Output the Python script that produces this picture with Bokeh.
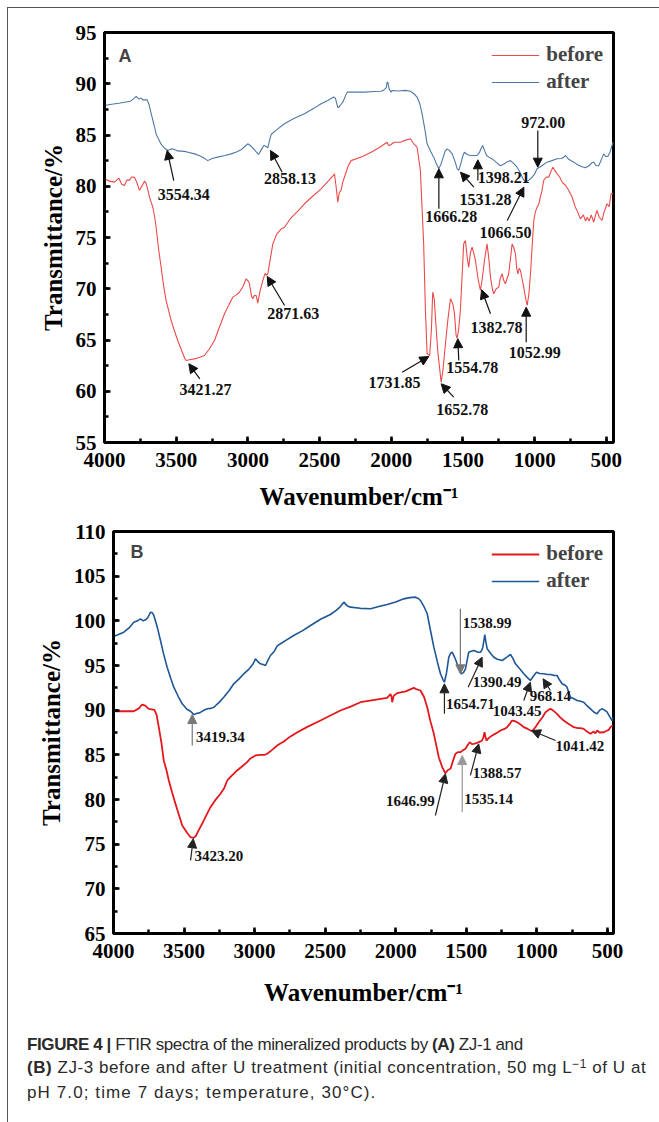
from bokeh.plotting import figure
from bokeh.models import (Range1d, SingleIntervalTicker, Legend, LegendItem, Arrow,
                          NormalHead, Label, ColumnDataSource, Div)
from bokeh.layouts import column
from bokeh.embed import file_html
from bokeh.resources import INLINE
from bokeh.core.properties import value

# ---------------- data: panel A (ZJ-1) ----------------
WN_A_BEFORE = [4000, 3965, 3930, 3900, 3880, 3861, 3845, 3826, 3810, 3791, 3775, 3756, 3740, 3720, 3709,
               3695, 3686, 3663, 3650, 3640, 3622, 3605, 3588, 3570, 3535, 3510, 3489, 3460, 3440, 3430,
               3400, 3372, 3340, 3303, 3270, 3233, 3200, 3163, 3130, 3105, 3080, 3059, 3035, 3012, 2995,
               2989, 2975, 2966, 2955, 2942, 2931, 2915, 2896, 2880, 2870, 2861, 2845, 2826, 2800, 2770,
               2745, 2700, 2650, 2605, 2550, 2489, 2440, 2400, 2396, 2385, 2373, 2362, 2350, 2340, 2327,
               2300, 2280, 2200, 2140, 2080, 2029, 2020, 2013, 1978, 1936, 1900, 1866, 1843, 1820, 1797,
               1774, 1762, 1750, 1732, 1720, 1711, 1700, 1692, 1676, 1657, 1652, 1640, 1622, 1605, 1587,
               1570, 1559, 1548, 1541, 1530, 1518, 1505, 1495, 1483, 1470, 1460, 1448, 1436, 1425, 1413,
               1395, 1378, 1365, 1350, 1332, 1320, 1308, 1295, 1285, 1268, 1250, 1240, 1227, 1215, 1204,
               1192, 1181, 1168, 1157, 1145, 1134, 1125, 1117, 1108, 1099, 1088, 1076, 1062, 1052, 1040,
               1029, 1018, 1006, 995, 983, 970, 960, 950, 937, 920, 902, 885, 872, 858, 843,
               825, 809, 785, 762, 740, 716, 700, 681, 660, 645, 634, 620, 605, 588, 575,
               565, 550, 530, 515, 495, 480, 467, 452]
T_A_BEFORE = [80.72, 80.5, 80.4, 80.8, 80.2, 80.07, 80.6, 80.6, 80.9, 80.88, 80.4, 79.6, 80.0, 80.5, 80.24,
              79.5, 78.93, 77.96, 77.0, 76.0, 73.8, 72.1, 70.3, 68.85, 66.9, 65.8, 64.95, 63.9, 63.2, 63.0,
              63.1, 63.16, 63.3, 63.49, 64.1, 64.95, 66.2, 67.56, 68.5, 69.18, 69.4, 69.66, 70.2, 70.97, 70.7,
              70.48, 69.3, 69.02, 69.34, 69.34, 68.59, 69.8, 70.8, 71.5, 71.3, 71.46, 72.8, 74.38, 75.3, 75.8,
              76.0, 76.9, 77.6, 78.29, 79.0, 79.75, 80.5, 81.1, 81.21, 80.0, 78.45, 79.4, 79.59, 80.3, 80.88,
              82.0, 82.5, 82.9, 83.32, 83.8, 84.3, 84.0, 83.98, 84.3, 84.3, 84.5, 84.63, 84.14, 83.81, 81.54,
              74.38, 68.0, 63.65, 63.49, 66.0, 69.66, 69.0, 67.2, 63.98, 61.5, 60.88, 62.0, 64.63, 67.0, 69.02,
              68.5, 67.56, 65.5, 65.15, 66.0, 67.88, 71.5, 74.38, 74.7, 73.0, 72.1, 73.5, 74.05, 73.5, 72.76,
              71.0, 69.83, 71.0, 72.76, 74.38, 73.0, 71.13, 70.0, 69.51, 70.0, 70.16, 71.0, 71.46, 70.8, 70.48,
              71.0, 71.46, 73.0, 74.38, 74.0, 73.41, 72.0, 71.46, 72.0, 71.78, 71.0, 70.16, 69.0, 68.37, 69.5,
              71.46, 74.0, 76.66, 77.5, 77.96, 78.3, 78.93, 79.5, 80.56, 80.9, 80.88, 81.5, 81.86, 81.5, 81.21,
              80.9, 80.4, 80.1, 79.59, 79.0, 77.96, 77.5, 76.82, 77.2, 76.6, 76.98, 76.6, 77.2, 76.49, 77.2,
              77.63, 77.0, 76.66, 77.5, 78.29, 78.0, 79.26, 79.3]

WN_A_AFTER = [4000, 3950, 3900, 3861, 3820, 3800, 3779, 3760, 3745, 3733, 3702, 3690, 3674, 3655, 3640,
              3620, 3605, 3580, 3558, 3540, 3524, 3490, 3442, 3410, 3372, 3340, 3300, 3280, 3250, 3210,
              3160, 3117, 3080, 3047, 3020, 3001, 2985, 2966, 2945, 2926, 2905, 2889, 2875, 2861, 2850,
              2838, 2800, 2745, 2680, 2605, 2540, 2489, 2440, 2401, 2390, 2373, 2366, 2350, 2338, 2308,
              2292, 2250, 2187, 2120, 2071, 2052, 2035, 2029, 2024, 2015, 2001, 1994, 1950, 1900, 1866,
              1840, 1820, 1800, 1785, 1765, 1750, 1725, 1704, 1685, 1669, 1655, 1645, 1625, 1610, 1595,
              1575, 1555, 1540, 1529, 1515, 1500, 1490, 1470, 1448, 1420, 1401, 1385, 1370, 1362, 1350,
              1335, 1320, 1290, 1265, 1239, 1210, 1190, 1169, 1145, 1122, 1100, 1080, 1064, 1040, 1018,
              1000, 983, 960, 940, 913, 880, 843, 815, 800, 785, 760, 727, 700, 670, 646,
              620, 600, 588, 570, 553, 535, 518, 505, 490, 475, 460, 452]
T_A_AFTER = [87.88, 88.0, 88.1, 88.2, 88.3, 88.5, 88.76, 88.5, 88.6, 88.43, 88.43, 88.0, 87.07, 86.0, 85.1,
             84.5, 84.1, 83.7, 83.49, 83.6, 83.65, 83.45, 83.4, 83.3, 83.16, 83.0, 82.7, 82.5, 82.7, 82.84,
             83.0, 83.16, 83.35, 83.55, 83.9, 84.14, 84.0, 83.75, 83.4, 83.1, 83.6, 83.98, 83.9, 83.75, 84.4,
             85.05, 85.5, 86.1, 86.6, 87.07, 87.6, 88.04, 88.4, 88.7, 88.6, 87.7, 87.7, 88.0, 88.2, 89.18,
             89.18, 89.2, 89.18, 89.25, 89.27, 89.4, 89.6, 90.15, 90.15, 89.5, 89.18, 89.34, 89.3, 89.35, 89.27,
             89.0, 88.7, 88.0, 87.07, 85.5, 84.14, 83.4, 82.84, 82.2, 81.7, 82.1, 82.5, 83.4, 83.65, 83.5,
             83.16, 82.4, 81.7, 81.54, 82.2, 83.0, 83.32, 83.1, 83.0, 83.0, 83.0, 83.3, 83.8, 83.98, 83.5,
             83.0, 82.84, 82.6, 82.3, 82.0, 82.2, 82.4, 82.5, 82.2, 81.86, 81.3, 80.7, 80.4, 80.6, 80.88,
             81.2, 81.7, 81.9, 82.1, 82.35, 82.5, 82.68, 82.7, 82.8, 83.0, 82.6, 82.35, 82.1, 81.9, 81.8,
             82.0, 82.3, 82.35, 82.0, 82.0, 82.6, 83.16, 82.9, 82.9, 83.3, 83.98, 84.3]

# ---------------- data: panel B (ZJ-3) ----------------
WN_B_BEFORE = [4000, 3930, 3856, 3820, 3797, 3775, 3750, 3710, 3695, 3679, 3660, 3644, 3625, 3608, 3585,
               3561, 3535, 3513, 3480, 3454, 3435, 3419, 3395, 3372, 3340, 3313, 3280, 3242, 3215, 3194,
               3160, 3124, 3090, 3053, 3030, 2994, 2960, 2930, 2911, 2880, 2840, 2815, 2793, 2760, 2700,
               2630, 2533, 2463, 2392, 2320, 2250, 2150, 2061, 2037, 2030, 2025, 2015, 1990, 1930, 1872,
               1860, 1825, 1800, 1777, 1755, 1730, 1712, 1695, 1670, 1648, 1630, 1612, 1595, 1577, 1560,
               1542, 1525, 1506, 1490, 1476, 1460, 1447, 1430, 1412, 1400, 1388, 1378, 1371, 1364, 1357,
               1340, 1317, 1290, 1258, 1230, 1211, 1190, 1176, 1160, 1140, 1115, 1093, 1065, 1034, 1010,
               987, 960, 939, 920, 904, 880, 857, 835, 810, 780, 760, 739, 710, 690, 668,
               645, 620, 597, 585, 573, 555, 526, 505, 490, 479, 462]
T_B_BEFORE = [89.88, 89.9, 89.88, 90.2, 90.63, 90.5, 90.15, 90.04, 89.5, 88.1, 86.3, 84.37, 83.3, 82.13, 80.8,
              79.52, 78.2, 77.09, 76.3, 75.78, 75.7, 75.86, 76.6, 77.28, 78.3, 79.14, 79.9, 80.64, 81.3, 82.13,
              82.7, 83.25, 83.7, 84.18, 84.6, 84.93, 85.0, 85.0, 85.12, 85.5, 86.04, 86.3, 86.5, 86.9, 87.5,
              88.1, 88.84, 89.4, 89.96, 90.4, 90.89, 91.15, 91.38, 91.8, 91.5, 90.89, 91.6, 91.9, 92.1, 92.5,
              92.39, 92.2, 91.5, 90.33, 88.8, 87.35, 86.0, 84.73, 83.6, 82.94, 83.3, 83.44, 84.3, 85.12, 85.3,
              85.3, 85.5, 85.68, 86.1, 86.42, 86.2, 86.23, 86.3, 86.42, 86.5, 86.6, 87.0, 87.53, 87.0, 86.6,
              86.9, 87.16, 87.4, 87.72, 87.9, 88.1, 88.5, 88.84, 88.8, 88.65, 88.4, 88.1, 87.9, 87.64, 88.1,
              88.65, 89.2, 89.77, 90.0, 90.15, 89.9, 89.59, 89.2, 88.84, 88.5, 88.3, 88.1, 88.0, 88.0, 87.91,
              87.6, 87.35, 87.6, 87.4, 87.72, 87.5, 87.53, 87.7, 87.8, 88.1, 88.3]

WN_B_AFTER = [4000, 3960, 3927, 3890, 3856, 3830, 3809, 3790, 3773, 3755, 3738, 3725, 3714, 3690, 3667,
              3645, 3620, 3595, 3573, 3540, 3513, 3480, 3454, 3430, 3407, 3390, 3370, 3336, 3310, 3289,
              3250, 3219, 3180, 3148, 3110, 3077, 3040, 3010, 2994, 2975, 2959, 2940, 2923, 2905, 2888,
              2860, 2840, 2817, 2770, 2723, 2660, 2604, 2530, 2463, 2420, 2392, 2368, 2345, 2321, 2250,
              2179, 2120, 2061, 2000, 1943, 1900, 1860, 1840, 1825, 1800, 1777, 1755, 1730, 1705, 1683,
              1665, 1655, 1640, 1624, 1610, 1600, 1585, 1565, 1550, 1537, 1520, 1506, 1495, 1483, 1465,
              1447, 1420, 1400, 1390, 1383, 1375, 1369, 1362, 1352, 1330, 1305, 1280, 1246, 1215, 1187,
              1170, 1152, 1120, 1093, 1070, 1046, 1025, 1003, 980, 951, 925, 904, 880, 857, 840,
              821, 800, 786, 775, 762, 740, 715, 690, 668, 645, 620, 597, 573, 555, 538,
              520, 502, 485, 467, 460]
T_B_AFTER = [98.25, 98.5, 98.73, 99.2, 99.85, 100.0, 100.22, 100.0, 100.11, 100.4, 100.97, 100.9, 100.6, 99.3, 97.8,
             96.3, 94.81, 93.6, 92.57, 91.5, 90.71, 90.1, 89.88, 89.5, 89.66, 89.7, 89.9, 90.15, 90.2, 90.33,
             90.9, 91.45, 92.2, 92.95, 93.5, 94.07, 94.6, 95.2, 95.75, 95.4, 95.19, 95.1, 95.0, 95.6, 96.12,
             96.6, 97.2, 97.43, 97.9, 98.36, 98.9, 99.48, 100.2, 100.71, 101.2, 101.6, 102.09, 101.7, 101.53, 101.4,
             101.35, 101.6, 101.83, 102.1, 102.46, 102.6, 102.65, 102.5, 102.28, 101.6, 100.79, 99.0, 97.05, 95.4, 94.07,
             93.4, 93.13, 94.2, 95.93, 96.4, 96.49, 96.0, 95.19, 94.5, 94.07, 94.2, 94.63, 95.5, 96.49, 96.6,
             96.68, 96.5, 96.49, 96.7, 97.05, 97.8, 98.47, 97.7, 96.87, 96.4, 95.93, 95.7, 95.56, 95.9, 96.23,
             95.8, 95.19, 94.6, 94.07, 93.7, 93.32, 93.8, 94.25, 94.1, 94.07, 94.0, 94.0, 93.9, 93.88, 93.4,
             92.95, 92.8, 92.57, 92.0, 91.45, 91.3, 91.08, 91.0, 90.89, 90.5, 90.15, 89.8, 89.59, 90.0, 90.15,
             90.0, 89.77, 89.3, 88.84, 89.2]

# ---------------- peak annotations ----------------
# label, head (wn, T), tail (wn, T), text (wn, T)
ANN_A = [("3554.34", 3563, 83.49, 3517, 80.56, 3447, 79.2),
         ("2858.13", 2842, 83.49, 2761, 81.37, 2707, 80.73),
         ("3421.27", 3412, 62.68, 3335, 61.21, 3296, 60.14),
         ("2871.63", 2865, 71.2, 2744, 68.37, 2684, 67.56),
         ("1666.28", 1668, 81.7, 1668, 77.8, 1582, 77.05),
         ("1531.28", 1517, 81.37, 1424, 79.91, 1342, 78.71),
         ("1398.21", 1396, 82.58, 1396, 80.56, 1215, 80.88),
         ("1066.50", 1075, 79.91, 1191, 76.66, 1203, 75.52),
         ("972.00", 978, 81.86, 978, 85.44, 940, 86.25),
         ("1731.85", 1738, 63.39, 1924, 61.86, 1977, 60.88),
         ("1652.78", 1652, 60.73, 1564, 59.42, 1505, 58.22),
         ("1554.78", 1536, 65.12, 1529, 63.0, 1435, 62.29),
         ("1382.78", 1370, 69.9, 1308, 67.56, 1266, 66.19),
         ("1052.99", 1059, 68.2, 1059, 64.79, 999, 63.81)]
ANN_B = [("3419.34", 3442, 89.51, 3442, 86.04, 3242, 87.05),
         ("3423.20", 3435, 75.6, 3454, 73.17, 3254, 73.62),
         ("1538.99", 1542, 94.07, 1542, 101.35, 1352, 99.73),
         ("1390.49", 1388, 95.93, 1487, 92.57, 1281, 93.13),
         ("1654.71", 1655, 92.95, 1655, 89.59, 1471, 90.71),
         ("1043.45", 1046, 93.13, 1093, 91.08, 1140, 89.96),
         ("968.14", 956, 93.51, 904, 92.2, 904, 91.64),
         ("1041.42", 1038, 87.72, 868, 86.6, 696, 86.04),
         ("1388.57", 1412, 86.23, 1471, 82.69, 1281, 82.99),
         ("1646.99", 1648, 82.88, 1719, 78.21, 1896, 79.81),
         ("1535.14", 1529, 84.92, 1529, 78.58, 1341, 80.08)]
ARROW_COLOR_B = ["#777777", "#222222", "#777777", "#222222", "#222222", "#222222",
                 "#222222", "#222222", "#222222", "#222222", "#999999"]

SERIES = ["before", "after"]
SERIF = "Liberation Serif"


def make_panel(letter, wn_b, t_b, wn_a, t_a, ann, arrow_colors, x_end, y0, y1,
               fw, fh, bl, bt, bb, colors, widths, ann_size, letter_pos, x_lab_sd):
    p = figure(frame_width=fw, frame_height=fh, min_border_left=bl, min_border_right=643 - bl - fw,
               min_border_top=bt, min_border_bottom=bb,
               x_range=Range1d(4000, x_end), y_range=Range1d(y0, y1),
               output_backend="svg", toolbar_location=None)
    p.frame_align = False
    p.grid.visible = False
    p.outline_line_color = "black"
    p.outline_line_width = 3
    p.background_fill_color = "white"
    p.border_fill_color = "white"
    for ax, interval in ((p.xaxis[0], 500), (p.yaxis[0], 5)):
        ax.ticker = SingleIntervalTicker(interval=interval, num_minor_ticks=2)
        ax.axis_line_width = 3
        ax.major_tick_in = 6
        ax.major_tick_out = 0
        ax.minor_tick_in = 4
        ax.minor_tick_out = 0
        ax.major_tick_line_width = 2.5
        ax.minor_tick_line_width = 2.5
        ax.major_label_text_font = SERIF
        ax.major_label_text_font_style = "bold"
        ax.major_label_text_font_size = "21px"
        ax.major_label_text_color = "black"
        ax.axis_label_text_font = SERIF
        ax.axis_label_text_font_style = "bold"
        ax.axis_label_text_font_size = "25px"
        ax.axis_label_text_color = "black"
    p.xaxis.axis_label = "Wavenumber/cm⁻¹"
    p.yaxis.axis_label = "Transmittance/%"
    p.xaxis.major_label_standoff = 10
    p.xaxis.axis_label_standoff = x_lab_sd
    p.yaxis.major_label_standoff = 8
    p.yaxis.axis_label_standoff = 6

    r1 = p.line(wn_b, t_b, line_color=colors[0], line_width=widths[0])
    r2 = p.line(wn_a, t_a, line_color=colors[1], line_width=widths[1])

    for i, (lab, hx, hy, tx, ty, lx, ly) in enumerate(ann):
        p.add_layout(Arrow(x_start=tx, y_start=ty, x_end=hx, y_end=hy,
                           line_color=arrow_colors[i], line_width=1.2,
                           end=NormalHead(size=9, line_color=arrow_colors[i],
                                          fill_color=arrow_colors[i], line_width=1)))
    src = ColumnDataSource(dict(x=[a[5] for a in ann], y=[a[6] for a in ann],
                                t=[a[0] for a in ann]))
    p.text("x", "y", text="t", source=src, text_font=value(SERIF), text_font_style="bold",
           text_font_size=ann_size, text_align="center", text_baseline="middle",
           text_color="#111111")

    leg = Legend(items=[LegendItem(label=SERIES[0], renderers=[r1]),
                        LegendItem(label=SERIES[1], renderers=[r2])],
                 location="top_right", border_line_color=None, background_fill_alpha=0,
                 label_text_font=SERIF, label_text_font_style="bold", label_text_font_size="21px",
                 glyph_width=48, glyph_height=22, label_height=22, spacing=2, padding=5,
                 margin=10, label_standoff=7)
    p.add_layout(leg)
    p.add_layout(Label(x=letter_pos[0], y=letter_pos[1], text=letter, text_font="Liberation Sans",
                       text_font_style="bold", text_font_size="18px", text_baseline="middle"))
    return p


pA = make_panel("A", WN_A_BEFORE, T_A_BEFORE, WN_A_AFTER, T_A_AFTER, ANN_A, ["#111111"] * len(ANN_A),
                450, 55, 95, 509, 410, 96, 24, 77, ("#ec4a4a", "#4f78a6"), (1.1, 1.1), "16px",
                (3902, 92.7), 13)
pB = make_panel("B", WN_B_BEFORE, T_B_BEFORE, WN_B_AFTER, T_B_AFTER, ANN_B, ARROW_COLOR_B,
                457, 65, 110, 500, 402, 105, 12, 84, ("#e3181c", "#1f5796"), (1.8, 1.6), "15px",
                (3880, 107.7), 18)

CAPTION = ("<div style=\"padding:11px 0 0 14px; font-family:'Liberation Sans',Arial,sans-serif; "
           "font-size:17px; line-height:23px; color:#2a2a2a; white-space:nowrap;\">"
           "<div style=\"letter-spacing:-0.4px;\"><b>FIGURE 4 |</b> FTIR spectra of "
           "the mineralized products by <b>(A)</b> ZJ-1 and</div>"
           "<div style=\"letter-spacing:0.55px;\"><b>(B)</b> ZJ-3 before and after U treatment "
           "(initial concentration, 50 mg L"
           "<span style=\"position:relative; top:-0.45em; font-size:70%;\">−1</span> of U at</div>"
           "<div style=\"letter-spacing:1.1px;\">pH 7.0; time 7 days; temperature, 30°C).</div></div>")
cap = Div(text=CAPTION, width=643, height=96)

layout = column(pA, pB, cap, spacing=0,
                styles={"margin-left": "7px", "margin-top": "7px",
                        "border-top": "1px solid #555", "border-left": "1px solid #555"})
open("out.html", "w").write(file_html(layout, INLINE))
